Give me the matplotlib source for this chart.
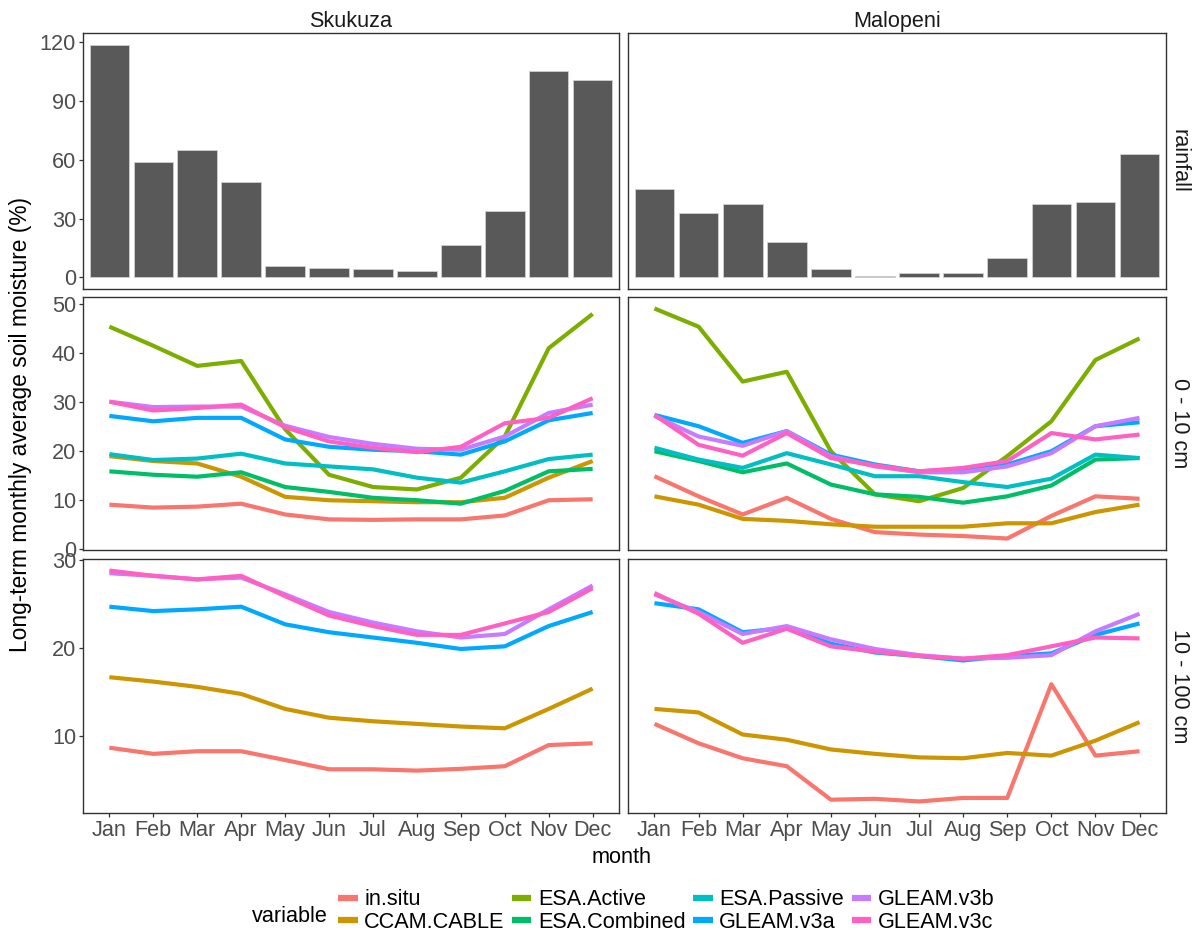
import matplotlib
matplotlib.use('Agg')
import matplotlib.pyplot as plt
from matplotlib.lines import Line2D
import numpy as np

plt.rcParams['font.family'] = ['Liberation Sans', 'DejaVu Sans']

# ---------------- data ----------------
months = ['Jan', 'Feb', 'Mar', 'Apr', 'May', 'Jun', 'Jul', 'Aug', 'Sep', 'Oct', 'Nov', 'Dec']
sites = ['Skukuza', 'Malopeni']
depths = ['rainfall', '0 - 10 cm', '10 - 100 cm']
variables = ['in.situ', 'CCAM.CABLE', 'ESA.Active', 'ESA.Combined',
             'ESA.Passive', 'GLEAM.v3a', 'GLEAM.v3b', 'GLEAM.v3c']
var_colors = ['#F8766D', '#CD9600', '#7CAE00', '#00BE67',
              '#00BFC4', '#00A9FF', '#C77CFF', '#FF61C3']

rain_skukuza = [118.8, 58.8, 64.8, 48.9, 6.0, 4.9, 4.4, 3.4, 16.4, 33.7, 105.2, 100.7]
rain_malopeni = [45.3, 32.7, 37.2, 18.1, 4.1, 0.7, 2.2, 2.2, 9.9, 37.7, 38.4, 63.2]

# Skukuza 0 - 10 cm
sk10_in_situ = [9.1, 8.5, 8.7, 9.3, 7.1, 6.1, 6.0, 6.1, 6.1, 6.9, 10.0, 10.2]
sk10_ccam = [19.0, 18.0, 17.5, 14.8, 10.7, 10.0, 9.8, 9.6, 9.6, 10.5, 14.6, 18.0]
sk10_esa_active = [45.4, 41.5, 37.4, 38.4, 24.5, 15.2, 12.7, 12.2, 14.6, 23.0, 41.0, 48.0]
sk10_esa_combined = [15.9, 15.2, 14.8, 15.7, 12.7, 11.7, 10.5, 10.0, 9.3, 11.9, 15.9, 16.4]
sk10_esa_passive = [19.4, 18.2, 18.5, 19.5, 17.5, 16.9, 16.3, 14.6, 13.6, 15.9, 18.4, 19.3]
sk10_gleam_a = [27.2, 26.1, 26.8, 26.8, 22.4, 20.9, 20.3, 20.0, 19.3, 22.0, 26.3, 27.8]
sk10_gleam_b = [30.1, 29.0, 29.1, 29.1, 25.2, 22.9, 21.5, 20.5, 20.3, 23.0, 27.8, 29.5]
sk10_gleam_c = [30.1, 28.3, 28.8, 29.5, 24.9, 22.0, 20.7, 19.8, 20.9, 25.7, 26.8, 30.8]

# Malopeni 0 - 10 cm
ma10_in_situ = [14.9, 10.8, 7.1, 10.5, 6.2, 3.5, 3.0, 2.7, 2.2, 6.8, 10.8, 10.3]
ma10_ccam = [10.8, 9.1, 6.2, 5.8, 5.1, 4.6, 4.6, 4.6, 5.3, 5.3, 7.6, 9.1]
ma10_esa_active = [49.1, 45.4, 34.2, 36.2, 20.0, 11.2, 9.8, 12.5, 19.0, 26.1, 38.6, 43.0]
ma10_esa_combined = [20.0, 18.0, 15.7, 17.5, 13.2, 11.2, 10.7, 9.5, 10.8, 13.0, 18.3, 18.6]
ma10_esa_passive = [20.7, 18.3, 16.6, 19.6, 17.3, 14.9, 14.9, 13.7, 12.7, 14.4, 19.3, 18.6]
ma10_gleam_a = [27.4, 25.1, 21.7, 24.1, 19.3, 17.3, 15.9, 16.3, 17.3, 20.0, 25.1, 25.9]
ma10_gleam_b = [27.2, 23.0, 21.1, 24.1, 19.0, 16.9, 15.7, 15.7, 16.9, 19.6, 25.1, 26.8]
ma10_gleam_c = [27.4, 21.3, 19.1, 23.7, 18.6, 17.1, 15.9, 16.6, 18.0, 23.7, 22.4, 23.4]

# Skukuza 10 - 100 cm
sk100_in_situ = [8.7, 8.0, 8.3, 8.3, 7.3, 6.25, 6.25, 6.1, 6.3, 6.6, 9.0, 9.2]
sk100_ccam = [16.7, 16.2, 15.6, 14.8, 13.1, 12.1, 11.7, 11.4, 11.1, 10.9, 13.1, 15.4]
sk100_gleam_a = [24.7, 24.2, 24.4, 24.7, 22.7, 21.8, 21.2, 20.6, 19.9, 20.2, 22.5, 24.1]
sk100_gleam_b = [28.5, 28.2, 27.8, 28.0, 26.1, 24.1, 22.9, 21.9, 21.2, 21.6, 24.4, 27.1]
sk100_gleam_c = [28.8, 28.2, 27.8, 28.2, 25.9, 23.7, 22.5, 21.5, 21.5, 22.8, 24.1, 26.8]

# Malopeni 10 - 100 cm
ma100_in_situ = [11.4, 9.2, 7.5, 6.6, 2.8, 2.9, 2.6, 3.0, 3.0, 15.9, 7.8, 8.3]
ma100_ccam = [13.1, 12.7, 10.2, 9.6, 8.5, 8.0, 7.6, 7.5, 8.1, 7.8, 9.5, 11.6]
ma100_gleam_a = [25.1, 24.4, 21.8, 22.3, 20.5, 19.5, 19.1, 18.6, 19.1, 19.4, 21.5, 22.8]
ma100_gleam_b = [26.1, 24.1, 21.6, 22.5, 21.0, 19.9, 19.2, 18.8, 18.9, 19.2, 21.9, 23.9]
ma100_gleam_c = [26.25, 23.9, 20.6, 22.2, 20.2, 19.6, 19.1, 18.8, 19.2, 20.2, 21.2, 21.1]

rain = {'Skukuza': rain_skukuza, 'Malopeni': rain_malopeni}
moist = {
    ('Skukuza', '0 - 10 cm'): {
        'in.situ': sk10_in_situ, 'CCAM.CABLE': sk10_ccam, 'ESA.Active': sk10_esa_active,
        'ESA.Combined': sk10_esa_combined, 'ESA.Passive': sk10_esa_passive,
        'GLEAM.v3a': sk10_gleam_a, 'GLEAM.v3b': sk10_gleam_b, 'GLEAM.v3c': sk10_gleam_c},
    ('Malopeni', '0 - 10 cm'): {
        'in.situ': ma10_in_situ, 'CCAM.CABLE': ma10_ccam, 'ESA.Active': ma10_esa_active,
        'ESA.Combined': ma10_esa_combined, 'ESA.Passive': ma10_esa_passive,
        'GLEAM.v3a': ma10_gleam_a, 'GLEAM.v3b': ma10_gleam_b, 'GLEAM.v3c': ma10_gleam_c},
    ('Skukuza', '10 - 100 cm'): {
        'in.situ': sk100_in_situ, 'CCAM.CABLE': sk100_ccam,
        'GLEAM.v3a': sk100_gleam_a, 'GLEAM.v3b': sk100_gleam_b, 'GLEAM.v3c': sk100_gleam_c},
    ('Malopeni', '10 - 100 cm'): {
        'in.situ': ma100_in_situ, 'CCAM.CABLE': ma100_ccam,
        'GLEAM.v3a': ma100_gleam_a, 'GLEAM.v3b': ma100_gleam_b, 'GLEAM.v3c': ma100_gleam_c},
}
yticks = {'rainfall': [0, 30, 60, 90, 120],
          '0 - 10 cm': [0, 10, 20, 30, 40, 50],
          '10 - 100 cm': [10, 20, 30]}

# ---------------- layout ----------------
W, H = 1195, 938
fig = plt.figure(figsize=(W / 100, H / 100), dpi=100)


def rect(l, t, r, b):
    return [l / W, 1 - b / H, (r - l) / W, (b - t) / H]


cols = [(83, 619), (628, 1166)]
rows = [(33, 289), (297, 550), (559, 813)]

TICK_COL = '#4D4D4D'
BORDER = '#333333'
FS = 15.6

x = np.arange(len(months))

for ri, depth in enumerate(depths):
    # shared y range per row (ggplot-like 5% expansion)
    if depth == 'rainfall':
        vals = rain_skukuza + rain_malopeni + [0]
    else:
        vals = []
        for s in sites:
            for v in moist[(s, depth)].values():
                vals += v
    lo, hi = min(vals), max(vals)
    span = hi - lo
    ylim = (lo - 0.05 * span, hi + 0.05 * span)

    for ci, site in enumerate(sites):
        l, r = cols[ci]
        t, b = rows[ri]
        ax = fig.add_axes(rect(l, t, r, b))
        if depth == 'rainfall':
            ax.bar(x, rain[site], width=0.9, color='#595959',
                   edgecolor='#d0d0d0', linewidth=0.6)
        else:
            data = moist[(site, depth)]
            for vname, col in zip(variables, var_colors):
                if vname in data:
                    ax.plot(x, data[vname], color=col, lw=3.0,
                            solid_joinstyle='round', solid_capstyle='butt')
        ax.set_xlim(-0.6, len(months) - 0.4)
        ax.set_ylim(*ylim)
        ax.set_yticks(yticks[depth])
        ax.set_xticks(x)
        ax.set_xticklabels(months)
        for sp in ax.spines.values():
            sp.set_color(BORDER)
            sp.set_linewidth(1.0)
        ax.tick_params(axis='both', direction='out', length=3, width=0.9,
                       color=BORDER, labelcolor=TICK_COL, labelsize=FS, pad=2)
        if ri < 2:
            ax.tick_params(axis='x', bottom=False, labelbottom=False)
        if ci == 1:
            ax.tick_params(axis='y', left=False, labelleft=False)
        if ri == 0:
            fig.text((l + r) / 2 / W, 1 - 27 / H, site,
                     ha='center', va='baseline', fontsize=FS, color='#1A1A1A')
    # right strip label
    t, b = rows[ri]
    fig.text(1179 / W, 1 - ((t + b) / 2) / H, depth, rotation=270,
             ha='center', va='center', fontsize=FS, color='#1A1A1A')

# axis titles
fig.text(21 / W, 1 - 424 / H, 'Long-term monthly average soil moisture (%)',
         rotation=90, ha='center', va='center', fontsize=16.4, color='black')
fig.text(622 / W, 1 - 863 / H, 'month', ha='center', va='baseline',
         fontsize=FS, color='black')

# legend
handles = [Line2D([0], [0], color=c, lw=4.5, solid_capstyle='butt') for c in var_colors]
leg = fig.legend(handles, variables, ncol=4, loc='center left',
                 bbox_to_anchor=(338 / W, 1 - 911 / H), frameon=False,
                 fontsize=FS, handlelength=0.9, handletextpad=0.3,
                 columnspacing=0.35, labelspacing=0.08, borderpad=0,
                 borderaxespad=0)
fig.text(252 / W, 1 - 922 / H, 'variable', ha='left', va='baseline',
         fontsize=FS, color='black')

fig.savefig('out.png', dpi=100)
